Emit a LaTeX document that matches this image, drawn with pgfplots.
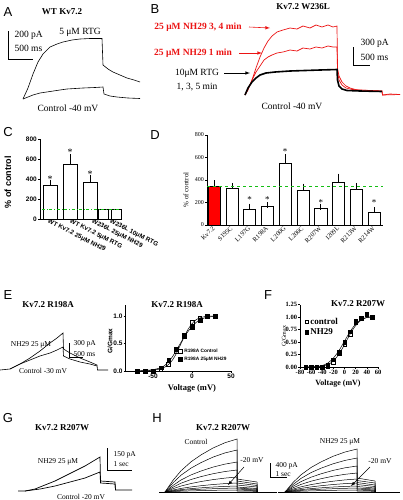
\documentclass[border=0pt]{standalone}
\usepackage{pgfplots}
\pgfplotsset{compat=1.18}
\usepackage{fontspec}
\setmainfont{Liberation Serif}
\newfontfamily\arial{Liberation Sans}
\definecolor{tred}{RGB}{235,20,20}
\definecolor{pgreen}{RGB}{20,190,20}
\newcommand\tfont{\fontsize{9}{10}\selectfont\bfseries}
\newcommand\afont{\fontsize{9.5}{10}\selectfont}
\newcommand\sfont{\fontsize{7.5}{8}\selectfont}
\newcommand\pfont{\arial\fontsize{13}{13}\selectfont}
\pgfplotsset{
 prism/.style={scale only axis, axis lines=left, axis line style={-, line width=0.6pt},
   tick align=outside, major tick length=2pt, tick style={black, line width=0.6pt},
   /pgf/number format/assume math mode=true, clip=false},
 ebar/.style={error bars/.cd, y dir=plus, y explicit, error bar style={line width=0.6pt},
   error mark options={line width=0.6pt, mark size=3pt}},
}
\begin{document}
\begin{tikzpicture}
\useasboundingbox (0pt,0pt) rectangle (402pt,-500pt);
% ---------------- overlay: traces and text ----------------
\begin{axis}[at={(0pt,0pt)}, anchor=north west, scale only axis, width=402pt, height=500pt,
  xmin=0, xmax=402, ymin=0, ymax=500, y dir=reverse, hide axis, clip=false, no markers]
% Panel A
\addplot[black, line width=0.6pt] coordinates {(23,99)(28,88)(33,74)(38,62)(43,54)(50,47)(57,44)(63,42)(72,40)(80,39)(90,38.5)(102,38.5)(103,65)(108,69)(113,72)(120,75)(127,78)(134,80)(140,82)};
\addplot[black, line width=0.6pt] coordinates {(23,99)(28,97)(33,95)(40,93)(50,91.5)(60,90)(67,89)(75,88.5)(83,88)(95,87.5)(103,87)(104,94)(110,96)(117,97)(128,98)(140,98.5)};
\addplot[black, line width=0.5pt] coordinates {(8,31)(8,59)(33,59)};
\node[font=\pfont] at (8,12) {A};
\node[font=\tfont] at (62,12) {WT Kv7.2};
\node[font=\afont, anchor=west] at (11,35) {200 pA};
\node[font=\afont, anchor=west] at (11,48) {500 ms};
\node[font=\afont] at (80,32) {5 μM RTG};
\node[font=\afont] at (68,108) {Control -40 mV};
% Panel B
\addplot[tred, line width=0.7pt] coordinates {(245,95)(248,90)(252,80)(256,68)(260,57)(264,48)(268,41)(272,36)(277,32)(283,30)(290,28)(297,29)(303,26)(310,28)(316,25)(322,27)(328,25)(333,27)(337,26)(337.5,68)(339,76)(342,82)(346,86)(350,88)(357,90)(370,90.5)(382,91)(382.5,95)(390,94)(400,94.5)};
\addplot[tred, line width=0.7pt] coordinates {(245,95)(248,89)(252,80)(256,72)(260,66)(264,60)(268,57)(272,55)(277,53)(283,52)(290,50)(297,51)(303,48)(310,49)(316,47)(322,48)(328,46)(333,47)(337,47)(337.5,72)(339,80)(342,85)(346,88)(352,89.5)(360,90)(382,91)(382.5,95)(400,94.5)};
\addplot[black, line width=1.6pt] coordinates {(245,95)(248,88)(252,82)(256,78)(260,75)(266,73)(275,72)(290,71)(305,70.5)(320,70)(337,69.5)(337.5,80)(339,86)(342,89)(347,90.5)(360,91)(382,91.5)};
\addplot[black, line width=0.5pt] coordinates {(353,47)(353,65)(370,65)};
\node[font=\pfont] at (155,9) {B};
\node[font=\tfont] at (303,7) {Kv7.2 W236L};
\node[font=\afont\bfseries, text=tred] at (198,27) {25 μM NH29 3, 4 min};
\draw[tred, line width=0.6pt, -latex] (249,27) -- (270,28);
\node[font=\afont\bfseries, text=tred] at (193,53) {25 μM NH29 1 min};
\draw[tred, line width=0.6pt, -latex] (239,53) -- (262,53);
\node[font=\afont] at (197,73) {10μM RTG};
\draw[black, line width=0.6pt, -latex] (224,73) -- (250,73);
\node[font=\afont] at (197,87) {1, 3, 5 min};
\node[font=\afont, anchor=west] at (357,43) {300 pA};
\node[font=\afont, anchor=west] at (357,57) {500 ms};
\node[font=\afont] at (292,106) {Control -40 mV};
% Panel C, D text
\node[font=\pfont] at (8,132) {C};
\node[font=\arial\bfseries\fontsize{9}{9}\selectfont, rotate=90] at (8,182) {\% of control};
\node[font=\pfont] at (155,135) {D};
\node[font=\fontsize{7}{7}\selectfont, rotate=90] at (186,190) {\% of control};
% Panel E traces
\addplot[black, line width=0.6pt] coordinates {(0,370)(10,369)(20,364)(30,358)(40,351)(50,343)(57,338)(63,333)(63.5,349)(70,353)(80,358)(90,362)(97,365)(97.5,370)(108,370)};
\addplot[black, line width=0.6pt] coordinates {(10,369)(20,364)(30,360)(40,356)(50,353)(57,350)(63,347)(63.5,356)(70,359)(80,362)(90,364)(97,366)};
\addplot[black, line width=0.5pt] coordinates {(69,343)(69,357)(83,357)};
\node[font=\pfont] at (8,295) {E};
\node[font=\tfont] at (48,305) {Kv7.2 R198A};
\node[font=\tfont] at (177,305) {Kv7.2 R198A};
\node[font=\sfont] at (31,345) {NH29 25 μM};
\node[font=\sfont, anchor=west] at (70,344) {300 pA};
\node[font=\sfont, anchor=west] at (70,354) {500 ms};
\node[font=\sfont] at (43,371) {Control -30 mV};
\node[font=\arial\bfseries\fontsize{6.5}{6.5}\selectfont, rotate=90] at (110,341) {G/Gmax};
\node[font=\bfseries\fontsize{8.5}{8.5}\selectfont] at (192,388) {Voltage (mV)};
% Panel F text
\node[font=\pfont] at (268,295) {F};
\node[font=\tfont] at (358,304) {Kv7.2 R207W};
\node[font=\fontsize{6}{6}\selectfont, rotate=90] at (284,336) {G/Gmax};
\node[font=\bfseries\fontsize{8}{8}\selectfont] at (338,384) {Voltage (mV)};
% Panel G
\addplot[black, line width=0.7pt] coordinates {(18,491)(25,491)(35,489)(45,485)(55,481)(65,476)(75,471)(85,466)(95,460)(100,457)(100.5,481)(108,481.5)(115,482)(115.5,490)(132,490)};
\addplot[black, line width=0.7pt] coordinates {(25,491)(40,489)(55,486)(70,482)(85,478)(95,474)(100,472)(100.5,483)(108,483.5)(115,484)(115.5,490)};
\addplot[black, line width=0.5pt] coordinates {(107,448)(107,470)(132,470)};
\node[font=\pfont] at (8,418) {G};
\node[font=\tfont] at (62,428) {Kv7.2 R207W};
\node[font=\sfont] at (58,462) {NH29 25 μM};
\node[font=\sfont, anchor=west] at (110,455) {150 pA};
\node[font=\sfont, anchor=west] at (110,464) {1 sec};
\node[font=\sfont] at (81,497) {Control -20 mV};
% Panel H left family
\addplot[black, line width=1pt] coordinates {(159,492)(277,492)};
\addplot[black, line width=0.5pt] coordinates {(165,492)(173,480.3)(181,470.8)(191,461.8)(201,454.9)(213,448)(225,442.7)(237,439)(237,479)(257,482)(257,492)};
\addplot[black, line width=0.5pt] coordinates {(165,492)(173,482.8)(181,475.2)(191,468.1)(201,462.6)(213,457.1)(225,452.9)(237,450)(237,481)(257,484)(257,492)};
\addplot[black, line width=0.5pt] coordinates {(165,492)(173,485.4)(181,480)(191,474.9)(201,471)(213,467.1)(225,464.1)(237,462)(237,483)(257,485.5)(257,492)};
\addplot[black, line width=0.5pt] coordinates {(165,492)(173,487.2)(181,483.2)(191,479.5)(201,476.6)(213,473.7)(225,471.5)(237,470)(237,485)(257,487)(257,492)};
\addplot[black, line width=0.5pt] coordinates {(165,492)(173,488.7)(181,486)(191,483.5)(201,481.5)(213,479.6)(225,478.1)(237,477)(237,487)(257,488.5)(257,492)};
\addplot[black, line width=0.5pt] coordinates {(165,492)(173,490)(181,488.4)(191,486.9)(201,485.7)(213,484.5)(225,483.6)(237,483)(237,488)(257,489.3)(257,492)};
\addplot[black, line width=0.5pt] coordinates {(165,492)(173,490.7)(181,489.6)(191,488.6)(201,487.8)(213,487)(225,486.4)(237,486)(237,489)(257,490)(257,492)};
\addplot[black, line width=0.5pt] coordinates {(165,492)(173,491.1)(181,490.4)(191,489.7)(201,489.2)(213,488.7)(225,488.3)(237,488)(237,490)(257,490.7)(257,492)};
\addplot[black, line width=0.5pt] coordinates {(165,492)(173,491.6)(181,491.2)(191,490.9)(201,490.6)(213,490.3)(225,490.1)(237,490)(237,491)(257,491.3)(257,492)};
% Panel H right family
\addplot[black, line width=1pt] coordinates {(278,492)(400,492)};
\addplot[black, line width=0.5pt] coordinates {(285,492)(293,482.5)(301,474.8)(311,467.5)(321,461.9)(333,456.3)(345,452)(357,449)(357,478)(375,481)(375,492)};
\addplot[black, line width=0.5pt] coordinates {(285,492)(293,484.5)(301,478.4)(311,472.6)(321,468.2)(333,463.8)(345,460.4)(357,458)(357,480.5)(375,483)(375,492)};
\addplot[black, line width=0.5pt] coordinates {(285,492)(293,486.3)(301,481.6)(311,477.2)(321,473.8)(333,470.4)(345,467.8)(357,466)(357,482.5)(375,485)(375,492)};
\addplot[black, line width=0.5pt] coordinates {(285,492)(293,487.8)(301,484.4)(311,481.2)(321,478.7)(333,476.2)(345,474.3)(357,473)(357,484.5)(375,486.5)(375,492)};
\addplot[black, line width=0.5pt] coordinates {(285,492)(293,489.1)(301,486.8)(311,484.6)(321,482.9)(333,481.2)(345,479.9)(357,479)(357,486.5)(375,488)(375,492)};
\addplot[black, line width=0.5pt] coordinates {(285,492)(293,490)(301,488.4)(311,486.9)(321,485.7)(333,484.5)(345,483.6)(357,483)(357,488)(375,489)(375,492)};
\addplot[black, line width=0.5pt] coordinates {(285,492)(293,490.7)(301,489.6)(311,488.6)(321,487.8)(333,487)(345,486.4)(357,486)(357,489)(375,490)(375,492)};
\addplot[black, line width=0.5pt] coordinates {(285,492)(293,491.1)(301,490.4)(311,489.7)(321,489.2)(333,488.7)(345,488.3)(357,488)(357,490)(375,490.7)(375,492)};
\addplot[black, line width=0.5pt] coordinates {(285,492)(293,491.6)(301,491.2)(311,490.9)(321,490.6)(333,490.3)(345,490.1)(357,490)(357,491)(375,491.3)(375,492)};
\addplot[black, line width=0.5pt] coordinates {(270,463)(270,477)(287,477)};
\node[font=\pfont] at (157,418) {H};
\node[font=\tfont] at (223,428) {Kv7.2 R207W};
\node[font=\sfont] at (196,442) {Control};
\node[font=\sfont] at (252,460) {-20 mV};
\draw[black, line width=0.5pt, -latex] (244,467) -- (228,485);
\node[font=\sfont, anchor=west] at (272,466) {400 pA};
\node[font=\sfont, anchor=west] at (272,474) {1 sec};
\node[font=\sfont] at (340,442) {NH29 25 μM};
\node[font=\sfont] at (380,461) {-20 mV};
\draw[black, line width=0.5pt, -latex] (370,467) -- (351,486);
\end{axis}
% ---------------- Panel C ----------------
\begin{axis}[prism, at={(40pt,-219pt)}, anchor=south west, width=82pt, height=80pt,
  xmin=0, xmax=82, ymin=0, ymax=800, ytick={0,200,400,600,800},
  yticklabel style={font=\arial\bfseries\fontsize{6.5}{6.5}\selectfont, inner sep=1pt},
  xtick={8,30,52,70},
  xticklabels={WT Kv7.2 25μM NH29, WT Kv7.2 5μM RTG, W236L 25μM NH29, W236L 10μM RTG},
  xticklabel style={font=\arial\bfseries\fontsize{6.3}{6.3}\selectfont, rotate=-27, anchor=west, inner sep=0pt},
  xtick style={draw=none}]
\addplot[ybar, bar width=14, fill=white, draw=black, line width=0.6pt, ebar] coordinates {(10,335) +- (0,20) (30,545) +- (0,75) (50,362) +- (0,48)};
\addplot[ybar, bar width=10, fill=white, draw=black, line width=0.6pt] coordinates {(63,100) (76,100)};
\addplot[pgreen, dash dot, line width=0.8pt, no markers] coordinates {(2,100)(80,100)};
\node[font=\fontsize{10}{10}\selectfont] at (axis cs:10,395) {*};
\node[font=\fontsize{10}{10}\selectfont] at (axis cs:30,665) {*};
\node[font=\fontsize{10}{10}\selectfont] at (axis cs:50,445) {*};
\end{axis}
% ---------------- Panel D ----------------
\begin{axis}[prism, at={(207pt,-225pt)}, anchor=south west, width=176pt, height=90pt,
  xmin=-0.4, xmax=9.5, ymin=0, ymax=800, ytick={0,200,400,600,800},
  yticklabel style={font=\fontsize{6}{6}\selectfont, inner sep=1pt},
  xtick={0,...,9},
  xticklabels={Kv7.2,S195C,L197G,R198A,L200G,L206C,R207W,I209L,R213W,R214W},
  xticklabel style={font=\fontsize{6.5}{6.5}\selectfont, rotate=45, anchor=east, inner sep=0.5pt},
  xtick style={draw=none}]
\addplot[ybar, bar width=0.68, fill=red, draw=black, line width=0.6pt, ebar] coordinates {(0,347) +- (0,22)};
\addplot[ybar, bar width=0.68, fill=white, draw=black, line width=0.6pt, ebar] coordinates {(1,326) +- (0,21) (2,139) +- (0,24) (3,163) +- (0,12) (4,548) +- (0,53) (5,311) +- (0,30) (6,148) +- (0,15) (7,376) +- (0,54) (8,317) +- (0,30) (9,110) +- (0,23)};
\addplot[pgreen, dashed, line width=0.7pt, no markers] coordinates {(-0.4,347)(9.5,347)};
\node[font=\fontsize{9}{9}\selectfont] at (axis cs:2,225) {*};
\node[font=\fontsize{9}{9}\selectfont] at (axis cs:3,225) {*};
\node[font=\fontsize{9}{9}\selectfont] at (axis cs:4,650) {*};
\node[font=\fontsize{9}{9}\selectfont] at (axis cs:6,200) {*};
\node[font=\fontsize{9}{9}\selectfont] at (axis cs:9,200) {*};
\end{axis}
% ---------------- Panel E (right) ----------------
\begin{axis}[prism, at={(125.7pt,-371pt)}, anchor=south west, width=105.3pt, height=66pt,
  xmin=-85, xmax=50, ymin=0, ymax=1.2, xtick={-50,0,50}, ytick={0,0.5,1},
  yticklabel style={/pgf/number format/.cd, fixed, fixed zerofill, precision=1},
  ticklabel style={font=\arial\bfseries\fontsize{6.5}{6.5}\selectfont, inner sep=1pt},
  legend style={at={(0.5,0.37)}, anchor=north west, draw=none, fill=none,
    font=\arial\bfseries\fontsize{4.8}{5}\selectfont, inner sep=0pt, row sep=-1pt},
  legend cell align=left]
\addplot[black, line width=0.5pt, smooth, no markers, forget plot] coordinates {(-70,0)(-60,0.005)(-50,0.015)(-40,0.04)(-35,0.07)(-30,0.12)(-25,0.2)(-20,0.32)(-15,0.47)(-10,0.62)(-5,0.76)(0,0.86)(5,0.93)(10,0.965)(15,0.985)(20,0.995)(30,1.0)};
\addplot[black, line width=0.5pt, smooth, no markers, forget plot] coordinates {(-70,0)(-60,0.01)(-50,0.025)(-40,0.06)(-35,0.1)(-30,0.17)(-25,0.26)(-20,0.38)(-15,0.5)(-10,0.62)(-5,0.72)(0,0.81)(5,0.88)(10,0.93)(15,0.96)(20,0.98)(30,0.995)};
\addplot[only marks, mark=square, mark size=1.9pt, mark options={fill=white, draw=black, line width=0.5pt}] coordinates {(-70,0)(-60,0)(-50,0)(-40,0.03)(-30,0.12)(-20,0.36)(-10,0.66)(0,0.88)(10,0.97)(20,1.0)(30,1.0)};
\addplot[only marks, mark=square*, mark size=1.9pt, mark options={fill=black, draw=black}] coordinates {(-70,0)(-60,0)(-50,0)(-40,0.06)(-30,0.19)(-20,0.39)(-10,0.64)(0,0.8)(10,0.92)(20,1.0)(30,1.0)};
\legend{R198A Control, R198A 25μM NH29}
\end{axis}
% ---------------- Panel F ----------------
\begin{axis}[prism, at={(300pt,-367pt)}, anchor=south west, width=78pt, height=62.5pt,
  xmin=-80, xmax=60, ymin=0, ymax=1.25, xtick={-80,-60,-40,-20,0,20,40,60},
  ytick={0,0.25,0.5,0.75,1,1.25},
  yticklabel style={/pgf/number format/.cd, fixed, fixed zerofill, precision=2},
  ticklabel style={font=\bfseries\fontsize{6.5}{6.5}\selectfont, inner sep=0.8pt},
  legend style={at={(0.06,0.82)}, anchor=north west, draw=none, fill=none,
    font=\bfseries\fontsize{9}{9}\selectfont, inner sep=0pt, row sep=-1pt},
  legend cell align=left]
\addplot[black, line width=0.5pt, smooth, no markers, forget plot] coordinates {(-70,0)(-60,0)(-50,0.005)(-40,0.02)(-30,0.05)(-20,0.12)(-10,0.26)(0,0.45)(10,0.66)(20,0.83)(30,0.94)(40,0.99)(50,1.0)};
\addplot[black, line width=0.5pt, smooth, no markers, forget plot] coordinates {(-70,0)(-60,0.005)(-50,0.01)(-40,0.03)(-30,0.08)(-20,0.18)(-10,0.33)(0,0.52)(10,0.71)(20,0.86)(30,0.95)(40,0.99)(50,1.0)};
\addplot[only marks, mark=square, mark size=1.8pt, mark options={fill=white, draw=black, line width=0.5pt}] coordinates {(-70,0)(-60,0)(-50,0)(-40,0)(-30,0.02)(-20,0.1)(-10,0.27)(0,0.45)(10,0.65)(20,0.92)(30,0.97)(40,1.05)(50,1.0)};
\addplot[only marks, mark=square*, mark size=1.8pt, mark options={fill=black, draw=black}] coordinates {(-70,0)(-60,0)(-50,0)(-40,0.01)(-30,0.05)(-20,0.15)(-10,0.3)(0,0.5)(10,0.71)(20,0.9)(30,0.98)(40,1.07)(50,1.01)};
\legend{control, NH29}
\end{axis}
\end{tikzpicture}
\end{document}
